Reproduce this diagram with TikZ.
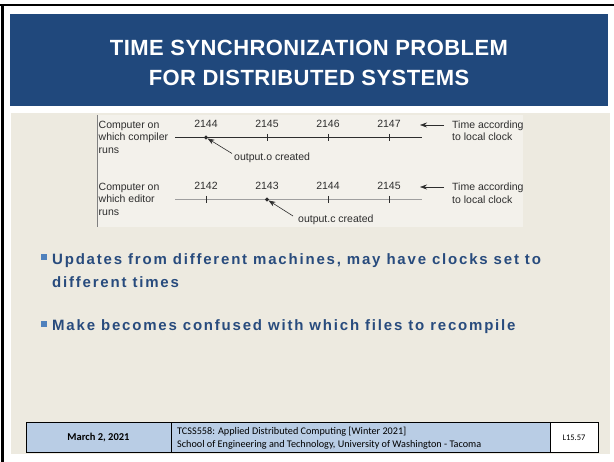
\documentclass[tikz,border=0pt]{standalone}
\usepackage{fontspec}
\setmainfont{Liberation Sans}
\newfontfamily\titlefont[LetterSpace=2]{Liberation Sans}
\newfontfamily\bulletfont[LetterSpace=12]{Liberation Sans}
\newfontfamily\figfont{Liberation Sans}
\newfontfamily\footfont{Carlito}
\usetikzlibrary{arrows.meta,shapes.geometric}
\definecolor{titleblue}{RGB}{32,72,124}
\definecolor{beige}{RGB}{237,234,224}
\definecolor{figbg}{RGB}{243,241,235}
\definecolor{textblue}{RGB}{40,75,125}
\definecolor{bulletblue}{RGB}{79,129,189}
\definecolor{footblue}{RGB}{185,205,229}
\definecolor{figink}{RGB}{45,45,45}
\tikzset{
  figtext/.style={font=\figfont\fontsize{10.5}{12.5}\selectfont, text=figink, inner sep=0pt},
  ticklabel/.style={figtext, anchor=base},
  tickmark/.style={draw=figink, line width=0.6pt},
  timeline/.style={line width=0.7pt},
  evdot/.style={diamond, fill=figink, inner sep=0pt, minimum size=4.5pt},
  ptrarrow/.style={-{Stealth[length=7pt,width=5pt]}, line width=0.6pt, draw=figink},
  bullettext/.style={font=\bulletfont\bfseries\fontsize{15}{23}\selectfont, text=textblue, anchor=west, inner sep=0pt, align=left},
  footcell/.style={draw=black, line width=0.8pt},
}
\begin{document}
\begin{tikzpicture}[x=1pt,y=-1pt]
\useasboundingbox (0,0) rectangle (614,462);
\fill[white] (0,0) rectangle (614,462);
% frame lines
\fill[black] (0,4) rectangle (614,6.5);
\fill[black] (1,4) rectangle (3.5,462);
% title
\fill[titleblue] (10,14) rectangle (608,106);
\node[font=\titlefont\bfseries\fontsize{22}{30}\selectfont, text=white, align=center] (title) at (309,63)
  {TIME SYNCHRONIZATION PROBLEM\\FOR DISTRIBUTED SYSTEMS};
% content background
\fill[beige] (11,113) rectangle (610,454);
% figure inset
\fill[figbg] (97,115) rectangle (523,227);
\draw[gray, line width=0.6pt] (97,115) -- (97,227);

% row 1
\node[figtext, anchor=north west, align=left] (lab1) at (98.5,120.5) {Computer on\\which compiler\\runs};
\coordinate (l1s) at (175,137.5);
\coordinate (l1e) at (422,137.5);
\draw[timeline, draw=figink] (l1s) -- (l1e);
\node[evdot] (d1) at (206,137.5) {};
\foreach \x in {267,328,389} {
  \draw[tickmark] (\x,134) -- (\x,141.5);
}
\node[ticklabel] (t11) at (206,128) {2144};
\node[ticklabel] (t12) at (267,128) {2145};
\node[ticklabel] (t13) at (328,128) {2146};
\node[ticklabel] (t14) at (389,128) {2147};
\coordinate (a1s) at (444,125);
\coordinate (a1e) at (420,125);
\draw[ptrarrow] (a1s) -- (a1e);
\node[figtext, anchor=west, align=left] (tl1) at (452,131) {Time according\\to local clock};
\node[figtext, anchor=west] (o1) at (234,158) {output.o created};
\coordinate (p1s) at (232,153.5);
\draw[ptrarrow] (p1s) -- (d1);

% row 2
\node[figtext, anchor=north west, align=left] (lab2) at (98.5,182.5) {Computer on\\which editor\\runs};
\coordinate (l2s) at (175,199.5);
\coordinate (l2e) at (422,199.5);
\draw[timeline, draw=gray!75] (l2s) -- (l2e);
\node[evdot] (d2) at (267,199.5) {};
\foreach \x in {206,328,389} {
  \draw[tickmark] (\x,196) -- (\x,203.5);
}
\node[ticklabel] (t21) at (206,190) {2142};
\node[ticklabel] (t22) at (267,190) {2143};
\node[ticklabel] (t23) at (328,190) {2144};
\node[ticklabel] (t24) at (389,190) {2145};
\coordinate (a2s) at (444,187);
\coordinate (a2e) at (420,187);
\draw[ptrarrow] (a2s) -- (a2e);
\node[figtext, anchor=west, align=left] (tl2) at (452,193) {Time according\\to local clock};
\node[figtext, anchor=west] (o2) at (298,220) {output.c created};
\coordinate (p2s) at (293,216);
\draw[ptrarrow] (p2s) -- (d2);

% bullets
\fill[bulletblue] (40.5,254) rectangle (46.5,260);
\node[bullettext] (b1) at (52,270.5) {Updates from different machines, may have clocks set to\\different times};
\fill[bulletblue] (40.5,321) rectangle (46.5,327);
\node[bullettext] (b2) at (52,326.5) {Make becomes confused with which files to recompile};

% footer
\draw[footcell, fill=footblue] (26,422) rectangle (171,452);
\draw[footcell, fill=footblue] (171,422) rectangle (550,452);
\draw[footcell, fill=white] (550,422) rectangle (598,452);
\node[font=\footfont\bfseries\fontsize{10.5}{12}\selectfont] (date) at (98.5,437.5) {March 2, 2021};
\node[font=\footfont\fontsize{10.2}{13.5}\selectfont, anchor=west, align=left, inner sep=0pt] (course) at (177,438)
  {TCSS558: Applied Distributed Computing [Winter 2021]\\School of Engineering and Technology, University of Washington - Tacoma};
\node[font=\footfont\fontsize{8.5}{10}\selectfont] (slide) at (574,437.5) {L15.57};
\end{tikzpicture}
\end{document}
